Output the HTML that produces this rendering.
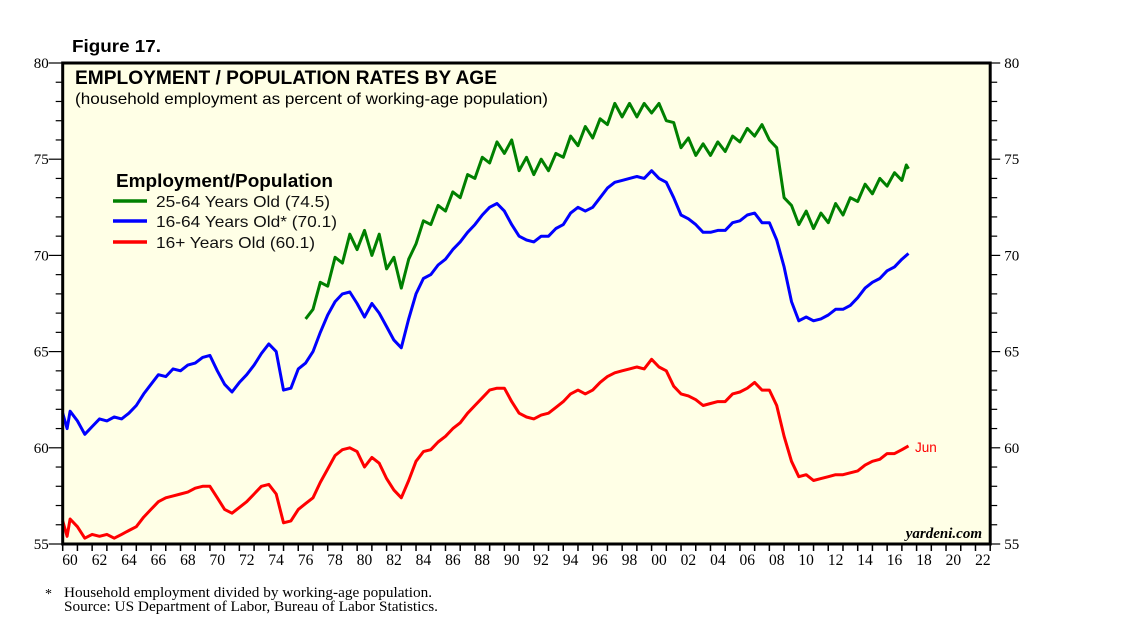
<!DOCTYPE html>
<html><head><meta charset="utf-8"><style>
body{margin:0;background:#fff;}
svg text{font-family:"Liberation Sans",sans-serif;}
.serif{font-family:"Liberation Serif",serif !important;}
</style></head><body>
<svg id="chart" width="1138" height="632" viewBox="0 0 1138 632" xmlns="http://www.w3.org/2000/svg">
<text x="72" y="52" font-size="17.5" font-weight="bold" textLength="89" lengthAdjust="spacingAndGlyphs">Figure 17.</text>
<rect x="62.7" y="63" width="927.5" height="481" fill="#ffffe6"/>
<g id="axes"></g>
<g id="series"></g>
<rect x="62.7" y="63" width="927.5" height="481" fill="none" stroke="#000" stroke-width="3"/>
<text x="75" y="84" font-size="19" font-weight="bold" textLength="422" lengthAdjust="spacingAndGlyphs">EMPLOYMENT / POPULATION RATES BY AGE</text>
<text x="75" y="104" font-size="16" textLength="473" lengthAdjust="spacingAndGlyphs">(household employment as percent of working-age population)</text>
<g>
<text x="116" y="187" font-size="18" font-weight="bold" textLength="217" lengthAdjust="spacingAndGlyphs">Employment/Population</text>
<line x1="113" y1="201" x2="147" y2="201" stroke="#008000" stroke-width="3.5"/>
<text x="156" y="207" font-size="16" fill="#111" textLength="174" lengthAdjust="spacingAndGlyphs">25-64 Years Old (74.5)</text>
<line x1="113" y1="221" x2="147" y2="221" stroke="#0000ff" stroke-width="3.5"/>
<text x="156" y="227" font-size="16" fill="#111" textLength="181" lengthAdjust="spacingAndGlyphs">16-64 Years Old* (70.1)</text>
<line x1="113" y1="242" x2="147" y2="242" stroke="#ff0000" stroke-width="3.5"/>
<text x="156" y="248" font-size="16" fill="#111" textLength="159" lengthAdjust="spacingAndGlyphs">16+ Years Old (60.1)</text>
</g>
<text x="915" y="452" font-size="13.5" fill="#ff0000">Jun</text>
<text x="982" y="538" font-size="15" font-style="italic" font-weight="bold" text-anchor="end" class="serif">yardeni.com</text>
<text x="45" y="598" font-size="14" class="serif">*</text>
<text x="64" y="597" font-size="14.5" class="serif" textLength="368" lengthAdjust="spacingAndGlyphs">Household employment divided by working-age population.</text>
<text x="64" y="611" font-size="14.5" class="serif" textLength="374" lengthAdjust="spacingAndGlyphs">Source: US Department of Labor, Bureau of Labor Statistics.</text>
</svg>
<script>
const yTicks=[55,60,65,70,75,80];
const xLabels=["60","62","64","66","68","70","72","74","76","78","80","82","84","86","88","90","92","94","96","98","00","02","04","06","08","10","12","14","16","18","20","22"];
const green=[[1976.5,66.7],[1977.0,67.2],[1977.5,68.6],[1978.0,68.4],[1978.5,69.9],[1979.0,69.6],[1979.5,71.1],[1980.0,70.3],[1980.5,71.3],[1981.0,70.0],[1981.5,71.1],[1982.0,69.3],[1982.5,69.9],[1983.0,68.3],[1983.5,69.8],[1984.0,70.6],[1984.5,71.8],[1985.0,71.6],[1985.5,72.6],[1986.0,72.3],[1986.5,73.3],[1987.0,73.0],[1987.5,74.2],[1988.0,74.0],[1988.5,75.1],[1989.0,74.8],[1989.5,75.9],[1990.0,75.3],[1990.5,76.0],[1991.0,74.4],[1991.5,75.1],[1992.0,74.2],[1992.5,75.0],[1993.0,74.4],[1993.5,75.3],[1994.0,75.1],[1994.5,76.2],[1995.0,75.7],[1995.5,76.7],[1996.0,76.1],[1996.5,77.1],[1997.0,76.8],[1997.5,77.9],[1998.0,77.2],[1998.5,77.9],[1999.0,77.2],[1999.5,77.9],[2000.0,77.4],[2000.5,77.9],[2001.0,77.0],[2001.5,76.9],[2002.0,75.6],[2002.5,76.1],[2003.0,75.2],[2003.5,75.8],[2004.0,75.2],[2004.5,75.9],[2005.0,75.4],[2005.5,76.2],[2006.0,75.9],[2006.5,76.6],[2007.0,76.2],[2007.5,76.8],[2008.0,76.0],[2008.5,75.6],[2009.0,73.0],[2009.5,72.6],[2010.0,71.6],[2010.5,72.3],[2011.0,71.4],[2011.5,72.2],[2012.0,71.7],[2012.5,72.7],[2013.0,72.1],[2013.5,73.0],[2014.0,72.8],[2014.5,73.7],[2015.0,73.2],[2015.5,74.0],[2016.0,73.6],[2016.5,74.3],[2017.0,73.9],[2017.3,74.7],[2017.45,74.5]];
const blue=[[1960.0,61.8],[1960.3,61.0],[1960.5,61.9],[1961.0,61.4],[1961.5,60.7],[1962.0,61.1],[1962.5,61.5],[1963.0,61.4],[1963.5,61.6],[1964.0,61.5],[1964.5,61.8],[1965.0,62.2],[1965.5,62.8],[1966.0,63.3],[1966.5,63.8],[1967.0,63.7],[1967.5,64.1],[1968.0,64.0],[1968.5,64.3],[1969.0,64.4],[1969.5,64.7],[1970.0,64.8],[1970.5,64.0],[1971.0,63.3],[1971.5,62.9],[1972.0,63.4],[1972.5,63.8],[1973.0,64.3],[1973.5,64.9],[1974.0,65.4],[1974.5,65.0],[1975.0,63.0],[1975.5,63.1],[1976.0,64.1],[1976.5,64.4],[1977.0,65.0],[1977.5,66.0],[1978.0,66.9],[1978.5,67.6],[1979.0,68.0],[1979.5,68.1],[1980.0,67.5],[1980.5,66.8],[1981.0,67.5],[1981.5,67.0],[1982.0,66.3],[1982.5,65.6],[1983.0,65.2],[1983.5,66.7],[1984.0,68.0],[1984.5,68.8],[1985.0,69.0],[1985.5,69.5],[1986.0,69.8],[1986.5,70.3],[1987.0,70.7],[1987.5,71.2],[1988.0,71.6],[1988.5,72.1],[1989.0,72.5],[1989.5,72.7],[1990.0,72.3],[1990.5,71.6],[1991.0,71.0],[1991.5,70.8],[1992.0,70.7],[1992.5,71.0],[1993.0,71.0],[1993.5,71.4],[1994.0,71.6],[1994.5,72.2],[1995.0,72.5],[1995.5,72.3],[1996.0,72.5],[1996.5,73.0],[1997.0,73.5],[1997.5,73.8],[1998.0,73.9],[1998.5,74.0],[1999.0,74.1],[1999.5,74.0],[2000.0,74.4],[2000.5,74.0],[2001.0,73.8],[2001.5,73.0],[2002.0,72.1],[2002.5,71.9],[2003.0,71.6],[2003.5,71.2],[2004.0,71.2],[2004.5,71.3],[2005.0,71.3],[2005.5,71.7],[2006.0,71.8],[2006.5,72.1],[2007.0,72.2],[2007.5,71.7],[2008.0,71.7],[2008.5,70.8],[2009.0,69.4],[2009.5,67.6],[2010.0,66.6],[2010.5,66.8],[2011.0,66.6],[2011.5,66.7],[2012.0,66.9],[2012.5,67.2],[2013.0,67.2],[2013.5,67.4],[2014.0,67.8],[2014.5,68.3],[2015.0,68.6],[2015.5,68.8],[2016.0,69.2],[2016.5,69.4],[2017.0,69.8],[2017.45,70.1]];
const red=[[1960.0,56.2],[1960.3,55.4],[1960.5,56.3],[1961.0,55.9],[1961.5,55.3],[1962.0,55.5],[1962.5,55.4],[1963.0,55.5],[1963.5,55.3],[1964.0,55.5],[1964.5,55.7],[1965.0,55.9],[1965.5,56.4],[1966.0,56.8],[1966.5,57.2],[1967.0,57.4],[1967.5,57.5],[1968.0,57.6],[1968.5,57.7],[1969.0,57.9],[1969.5,58.0],[1970.0,58.0],[1970.5,57.4],[1971.0,56.8],[1971.5,56.6],[1972.0,56.9],[1972.5,57.2],[1973.0,57.6],[1973.5,58.0],[1974.0,58.1],[1974.5,57.6],[1975.0,56.1],[1975.5,56.2],[1976.0,56.8],[1976.5,57.1],[1977.0,57.4],[1977.5,58.2],[1978.0,58.9],[1978.5,59.6],[1979.0,59.9],[1979.5,60.0],[1980.0,59.8],[1980.5,59.0],[1981.0,59.5],[1981.5,59.2],[1982.0,58.4],[1982.5,57.8],[1983.0,57.4],[1983.5,58.3],[1984.0,59.3],[1984.5,59.8],[1985.0,59.9],[1985.5,60.3],[1986.0,60.6],[1986.5,61.0],[1987.0,61.3],[1987.5,61.8],[1988.0,62.2],[1988.5,62.6],[1989.0,63.0],[1989.5,63.1],[1990.0,63.1],[1990.5,62.4],[1991.0,61.8],[1991.5,61.6],[1992.0,61.5],[1992.5,61.7],[1993.0,61.8],[1993.5,62.1],[1994.0,62.4],[1994.5,62.8],[1995.0,63.0],[1995.5,62.8],[1996.0,63.0],[1996.5,63.4],[1997.0,63.7],[1997.5,63.9],[1998.0,64.0],[1998.5,64.1],[1999.0,64.2],[1999.5,64.1],[2000.0,64.6],[2000.5,64.2],[2001.0,64.0],[2001.5,63.2],[2002.0,62.8],[2002.5,62.7],[2003.0,62.5],[2003.5,62.2],[2004.0,62.3],[2004.5,62.4],[2005.0,62.4],[2005.5,62.8],[2006.0,62.9],[2006.5,63.1],[2007.0,63.4],[2007.5,63.0],[2008.0,63.0],[2008.5,62.2],[2009.0,60.6],[2009.5,59.3],[2010.0,58.5],[2010.5,58.6],[2011.0,58.3],[2011.5,58.4],[2012.0,58.5],[2012.5,58.6],[2013.0,58.6],[2013.5,58.7],[2014.0,58.8],[2014.5,59.1],[2015.0,59.3],[2015.5,59.4],[2016.0,59.7],[2016.5,59.7],[2017.0,59.9],[2017.45,60.1]];

const X0=62.7,X1=990.2,Y0=544,Y1=63,T0=1960,T1=2023,V0=55,V1=80;
function xs(t){return X0+(t-T0)*(X1-X0)/(T1-T0);}
function ys(v){return Y0-(v-V0)*(Y0-Y1)/(V1-V0);}
const NS="http://www.w3.org/2000/svg";
const axes=document.getElementById('axes'),ser=document.getElementById('series');
function mk(tag,attrs,parent){const e=document.createElementNS(NS,tag);for(const k in attrs)e.setAttribute(k,attrs[k]);parent.appendChild(e);return e;}
for(let v=V0;v<=V1;v++){
  const major=yTicks.includes(v);
  const l=mk('line',{x1:X0-(major?14:7),x2:X0,y1:ys(v),y2:ys(v),stroke:'#000','stroke-width':1.2},axes);
  
  
  const r=mk('line',{x1:X1,x2:X1+(major?10:7),y1:ys(v),y2:ys(v),stroke:'#000','stroke-width':1.2},axes);
  
  
}
yTicks.forEach(v=>{
  const a=mk('text',{x:X0-14,y:ys(v)+5,'font-size':15,'text-anchor':'end',class:'serif'},axes);a.textContent=v;
  
  
  const b=mk('text',{x:X1+14,y:ys(v)+5,'font-size':15,class:'serif'},axes);b.textContent=v;
  
  
});
for(let t=T0;t<=T1;t++){
  const l=mk('line',{x1:xs(t),x2:xs(t),y1:Y0,y2:Y0+7,stroke:'#000','stroke-width':1.5},axes);
  
  
}
xLabels.forEach((s,i)=>{
  const t=mk('text',{x:xs(T0+2*i+0.5),y:565,'font-size':15.5,'text-anchor':'middle',class:'serif'},axes);t.textContent=s;
  
  
});
function line(data,color,name){
  const d=data.map((p,i)=>(i?'L':'M')+xs(p[0]).toFixed(1)+','+ys(p[1]).toFixed(1)).join('');
  const p=mk('path',{d:d,fill:'none',stroke:color,'stroke-width':3,'stroke-linejoin':'round'},ser);
  
  
}
line(red,'#ff0000','series-16-plus');
line(blue,'#0000ff','series-16-64');
line(green,'#008000','series-25-64');
</script>
</body></html>
